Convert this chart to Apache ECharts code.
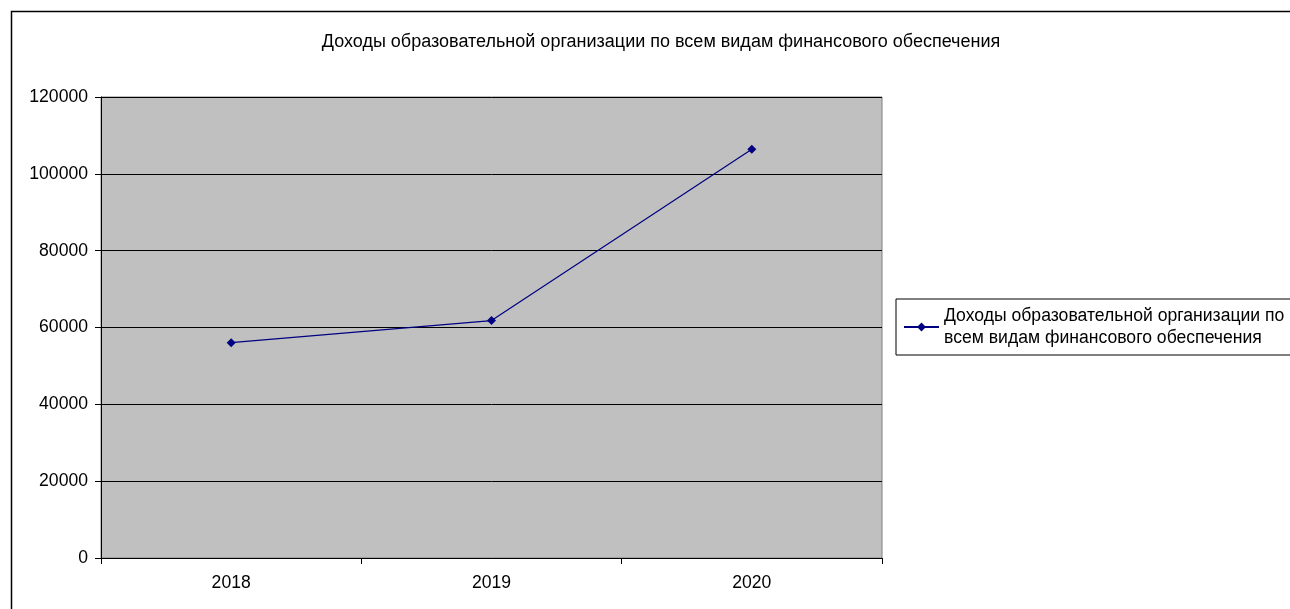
<!DOCTYPE html>
<html><head><meta charset="utf-8">
<script src="https://cdn.jsdelivr.net/npm/echarts@6/dist/echarts.min.js"></script>
<style>html,body{margin:0;padding:0;background:#fff}#c{width:1290px;height:609px}</style>
</head><body><div id="c"></div>
<script>
const title = "Доходы образовательной организации по всем видам финансового обеспечения";
const seriesName = "Доходы образовательной организации по всем видам финансового обеспечения";
const legendLabel = "Доходы образовательной организации по\nвсем видам финансового обеспечения";
const categories = ["2018", "2019", "2020"];
const values = [56050, 61800, 106400];
const yTicks = { min: 0, max: 120000, interval: 20000 };

const chart = echarts.init(document.getElementById('c'), null, {renderer: 'canvas'});
const F = 'Liberation Sans, Arial, sans-serif';
const FS = 17.6;
chart.setOption({
  animation: false,
  backgroundColor: '#fff',
  graphic: [{
    type: 'rect', z: -1,
    shape: {x: 11.5, y: 11.5, width: 1400, height: 700},
    style: {fill: 'none', stroke: '#000', lineWidth: 1.5}
  }],
  title: {
    text: title, left: 656, top: 28, textAlign: 'center',
    textStyle: {fontFamily: F, fontSize: 18, fontWeight: 'normal', color: '#000'}
  },
  legend: {
    left: 896, top: 299,
    orient: 'vertical',
    borderColor: '#000', borderWidth: 1,
    padding: [6, 30, 6, 7],
    itemWidth: 35, itemHeight: 11, itemGap: 0,
    formatter: () => legendLabel,
    textStyle: {fontFamily: F, fontSize: FS, color: '#000', lineHeight: 22},
    data: [{name: seriesName}]
  },
  grid: {left: 101, top: 97, width: 781, height: 461, show: true, backgroundColor: '#C0C0C0', borderColor: '#808080', borderWidth: 1},
  xAxis: {
    type: 'category', data: categories, boundaryGap: true,
    axisLine: {lineStyle: {color: '#000', width: 1}},
    axisTick: {show: true, length: 6, inside: false, lineStyle: {color: '#000'}},
    axisLabel: {fontFamily: F, fontSize: FS, color: '#000', margin: 16},
    splitLine: {show: false}
  },
  yAxis: {
    type: 'value', min: yTicks.min, max: yTicks.max, interval: yTicks.interval,
    axisLine: {show: true, lineStyle: {color: '#000', width: 1}},
    axisTick: {show: true, length: 6, lineStyle: {color: '#000'}},
    axisLabel: {fontFamily: F, fontSize: FS, color: '#000', margin: 13, formatter: v => String(v)},
    splitLine: {show: true, lineStyle: {color: '#000', width: 1}}
  },
  series: [{
    name: seriesName, type: 'line', data: values,
    symbol: 'diamond', symbolSize: 9,
    lineStyle: {color: '#000080', width: 1.2},
    itemStyle: {color: '#000080'}
  }]
});
</script></body></html>
